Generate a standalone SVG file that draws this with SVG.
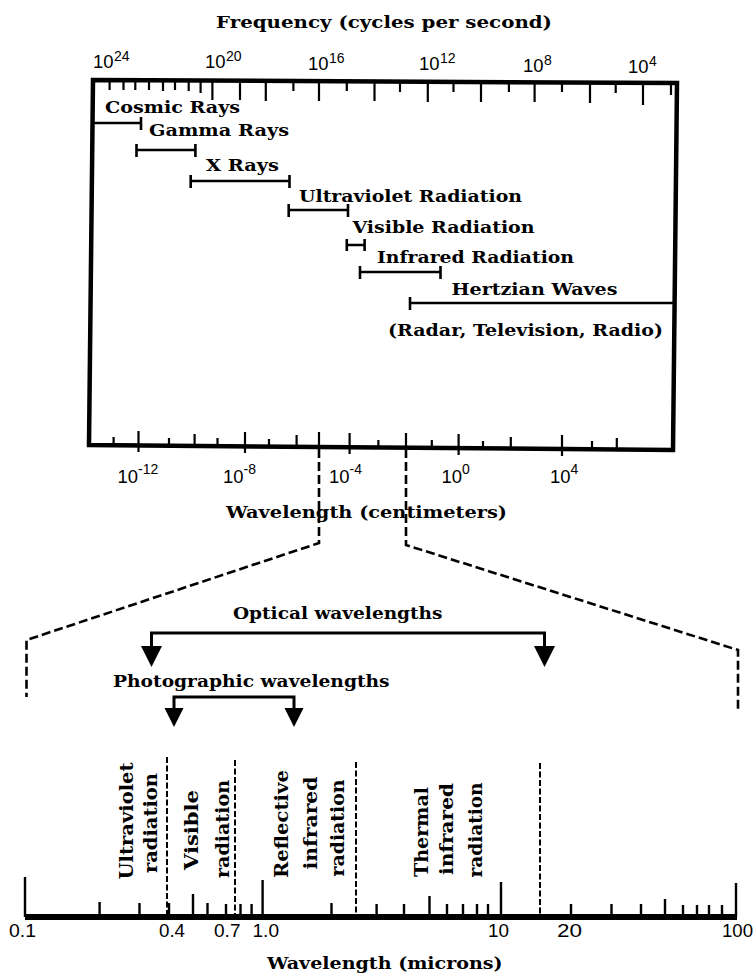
<svg xmlns="http://www.w3.org/2000/svg" width="754" height="975" viewBox="0 0 754 975">
<style>
.t{font-family:"DejaVu Serif","Liberation Serif",serif;font-weight:bold;font-size:17px;fill:#000}
.v{font-family:"DejaVu Serif","Liberation Serif",serif;font-weight:bold;font-size:18px;fill:#000}
.n{font-family:"Liberation Sans",Arial,sans-serif;font-size:19px;fill:#000}
.m{font-family:"Liberation Sans",Arial,sans-serif;font-size:18px;fill:#000}
.s{font-family:"Liberation Sans",Arial,sans-serif;font-size:14px;fill:#000}
.bar{stroke:#000;stroke-width:2.6;fill:none}
.tk{stroke:#000;stroke-width:2.2;fill:none}
.tk2{stroke:#000;stroke-width:2.4;fill:none}
.dash{stroke:#000;stroke-width:2.6;stroke-dasharray:9 4;fill:none}
.dash2{stroke:#000;stroke-width:2;stroke-dasharray:6 2.5;fill:none}
.ar{fill:#000;stroke:none}
.br{stroke:#000;stroke-width:3;fill:none}
</style>
<rect width="754" height="975" fill="#fff"/>

<g id="spectrum-chart">
  <text class="t" x="216" y="28" font-size="18" textLength="336" lengthAdjust="spacingAndGlyphs">Frequency (cycles per second)</text>
  <g id="freq-labels">
    <text class="n" x="93" y="68" textLength="20.5" lengthAdjust="spacingAndGlyphs">10</text><text class="s" x="114" y="61">24</text>
    <text class="n" x="205" y="68" textLength="20.5" lengthAdjust="spacingAndGlyphs">10</text><text class="s" x="226" y="61">20</text>
    <text class="n" x="308" y="70" textLength="20.5" lengthAdjust="spacingAndGlyphs">10</text><text class="s" x="329" y="63">16</text>
    <text class="n" x="419" y="70" textLength="20.5" lengthAdjust="spacingAndGlyphs">10</text><text class="s" x="440" y="63">12</text>
    <text class="n" x="523" y="72" textLength="20.5" lengthAdjust="spacingAndGlyphs">10</text><text class="s" x="544" y="65">8</text>
    <text class="n" x="628" y="73" textLength="20.5" lengthAdjust="spacingAndGlyphs">10</text><text class="s" x="649" y="66">4</text>
  </g>
  <path id="box" d="M93,80 L677,83 L673,450 L89,445 Z" fill="none" stroke="#000" stroke-width="4.5" stroke-linejoin="miter"/>
  <g id="top-ticks" class="tk">
    <path d="M109.6,81V90 M123.5,81V90 M135.3,81V90 M149,81V90 M163,81V91 M175,81V90 M188.7,81V91 M200.6,81V93 M212.4,81V100 M240,81V100 M265.8,81V101 M293.4,81V91 M319,81V101 M346.8,81V91 M374.5,81V101 M400,82V92 M427.8,82V102 M453.5,82V92 M481,82V102 M508.9,82V92 M534.6,82V102 M562,82V92 M590,82V103 M615.7,83V93 M643,83V105 M671,83V95"/>
  </g>
  <g id="bottom-ticks" class="tk">
    <path d="M113.6,445V437 M138.5,452V431 M169,446V438 M194.6,446V434 M217.5,446V438 M245,453V432 M269,447V439 M296.6,447V435 M319,449V432 M349.6,454V433 M378.4,448V440 M406,449V433 M431.8,448V440 M458.6,455V434 M483,449V441 M510.8,449V437 M562,456V435 M592,449V441 M616.8,450V438"/>
  </g>
  <g id="wave-labels">
    <text class="n" x="117.5" y="483" textLength="20.5" lengthAdjust="spacingAndGlyphs">10</text><text class="s" x="138" y="474">-12</text>
    <text class="n" x="223" y="483" textLength="20.5" lengthAdjust="spacingAndGlyphs">10</text><text class="s" x="243.5" y="474">-8</text>
    <text class="n" x="329" y="483" textLength="20.5" lengthAdjust="spacingAndGlyphs">10</text><text class="s" x="349.5" y="474">-4</text>
    <text class="n" x="441.6" y="483" textLength="20.5" lengthAdjust="spacingAndGlyphs">10</text><text class="s" x="462" y="474">0</text>
    <text class="n" x="550" y="483" textLength="20.5" lengthAdjust="spacingAndGlyphs">10</text><text class="s" x="570.5" y="474">4</text>
  </g>
  <text class="t" x="226" y="518" textLength="281" lengthAdjust="spacingAndGlyphs">Wavelength (centimeters)</text>
</g>

<g id="cosmic-rays">
  <text class="t" x="105" y="113" textLength="135" lengthAdjust="spacingAndGlyphs">Cosmic Rays</text>
  <path class="bar" d="M93,123H141 M141,117V130"/>
</g>
<g id="gamma-rays">
  <text class="t" x="149" y="136" textLength="140" lengthAdjust="spacingAndGlyphs">Gamma Rays</text>
  <path class="bar" d="M136.5,150H195.4 M136.5,144V157 M195.4,144V157"/>
</g>
<g id="x-rays">
  <text class="t" x="206" y="171" textLength="73" lengthAdjust="spacingAndGlyphs">X Rays</text>
  <path class="bar" d="M190.7,181H289.5 M190.7,175V188 M289.5,175V188"/>
</g>
<g id="ultraviolet">
  <text class="t" x="299" y="202" textLength="223" lengthAdjust="spacingAndGlyphs">Ultraviolet Radiation</text>
  <path class="bar" d="M288.7,210H348 M288.7,204V217 M348,204V217"/>
</g>
<g id="visible">
  <text class="t" x="352.5" y="233" textLength="182" lengthAdjust="spacingAndGlyphs">Visible Radiation</text>
  <path class="bar" d="M346.8,245H364.6 M346.8,239V251 M364.6,239V251"/>
</g>
<g id="infrared">
  <text class="t" x="377" y="263" textLength="197" lengthAdjust="spacingAndGlyphs">Infrared Radiation</text>
  <path class="bar" d="M360,272H440.5 M360,266V279 M440.5,266V279"/>
</g>
<g id="hertzian">
  <text class="t" x="451.5" y="295" textLength="166" lengthAdjust="spacingAndGlyphs">Hertzian Waves</text>
  <path class="bar" d="M410,303H674 M410,297V310"/>
  <text class="t" x="388" y="336" textLength="275" lengthAdjust="spacingAndGlyphs">(Radar, Television, Radio)</text>
</g>

<g id="connectors">
  <path class="dash" d="M319,449 L319,543 L26.5,640 L26.5,697"/>
  <path class="dash" d="M406,449 L406,545 L738,650 L738,710"/>
</g>

<g id="optical">
  <text class="t" x="233" y="619" textLength="209.5" lengthAdjust="spacingAndGlyphs">Optical wavelengths</text>
  <path class="br" d="M151.5,647V633H544.5V647"/>
  <polygon class="ar" points="141,646 162,646 151.5,667"/>
  <polygon class="ar" points="534,646 555,646 544.5,667"/>
</g>
<g id="photographic">
  <text class="t" x="113" y="687" textLength="276.6" lengthAdjust="spacingAndGlyphs">Photographic wavelengths</text>
  <path class="br" d="M174,709V697H294V709"/>
  <polygon class="ar" points="164.5,708 183.5,708 174,727"/>
  <polygon class="ar" points="284.5,708 303.5,708 294,727"/>
</g>

<g id="micron-scale">
  <g id="dividers" class="dash2">
    <path d="M167,757V914 M235,760V914 M356,762V914 M540,763V914"/>
  </g>
  <g id="region-labels">
    <text class="v" text-anchor="middle" transform="translate(133,821) rotate(-90)" textLength="117" lengthAdjust="spacingAndGlyphs">Ultraviolet</text>
    <text class="v" text-anchor="middle" transform="translate(156.5,823) rotate(-90)" textLength="100" lengthAdjust="spacingAndGlyphs">radiation</text>
    <text class="v" text-anchor="middle" transform="translate(198,830) rotate(-90)" textLength="80" lengthAdjust="spacingAndGlyphs">Visible</text>
    <text class="v" text-anchor="middle" transform="translate(228.5,829) rotate(-90)" textLength="98" lengthAdjust="spacingAndGlyphs">radiation</text>
    <text class="v" text-anchor="middle" transform="translate(288,824) rotate(-90)" textLength="108" lengthAdjust="spacingAndGlyphs">Reflective</text>
    <text class="v" text-anchor="middle" transform="translate(317,823) rotate(-90)" textLength="93" lengthAdjust="spacingAndGlyphs">infrared</text>
    <text class="v" text-anchor="middle" transform="translate(344,828) rotate(-90)" textLength="97" lengthAdjust="spacingAndGlyphs">radiation</text>
    <text class="v" text-anchor="middle" transform="translate(428,832) rotate(-90)" textLength="90" lengthAdjust="spacingAndGlyphs">Thermal</text>
    <text class="v" text-anchor="middle" transform="translate(453,829) rotate(-90)" textLength="92" lengthAdjust="spacingAndGlyphs">infrared</text>
    <text class="v" text-anchor="middle" transform="translate(482,830) rotate(-90)" textLength="95" lengthAdjust="spacingAndGlyphs">radiation</text>
  </g>
  <g id="micron-ticks" class="tk2">
    <path d="M25,917V877 M262.6,917V880 M501,917V882 M736,917V883"/>
    <path d="M193,917V894 M429.5,917V896 M665,917V899"/>
    <path d="M99.6,917V902 M139.5,917V903 M169,917V903 M207.5,917V903 M226,917V904 M240.5,917V904 M251.6,917V904 M331.5,917V903 M376.6,917V904 M404,917V904 M447,917V904 M463,917V904 M477,917V904 M488,917V904 M571,917V904 M611.5,917V904 M641,917V904 M683,917V905 M697,917V905 M709,917V905 M722,917V905"/>
  </g>
  <path id="micron-axis" d="M25,917H737" stroke="#000" stroke-width="6" fill="none"/>
  <g id="micron-labels">
    <text class="m" x="9" y="937" textLength="27" lengthAdjust="spacingAndGlyphs">0.1</text>
    <text class="m" x="159" y="937" textLength="26" lengthAdjust="spacingAndGlyphs">0.4</text>
    <text class="m" x="214" y="937" textLength="26.5" lengthAdjust="spacingAndGlyphs">0.7</text>
    <text class="m" x="252.5" y="937" textLength="26.5" lengthAdjust="spacingAndGlyphs">1.0</text>
    <text class="m" x="488" y="937" textLength="21" lengthAdjust="spacingAndGlyphs">10</text>
    <text class="m" x="557" y="937" textLength="25" lengthAdjust="spacingAndGlyphs">20</text>
    <text class="m" x="722" y="937" textLength="31" lengthAdjust="spacingAndGlyphs">100</text>
  </g>
  <text class="t" x="267" y="969" textLength="235.6" lengthAdjust="spacingAndGlyphs">Wavelength (microns)</text>
</g>
</svg>
